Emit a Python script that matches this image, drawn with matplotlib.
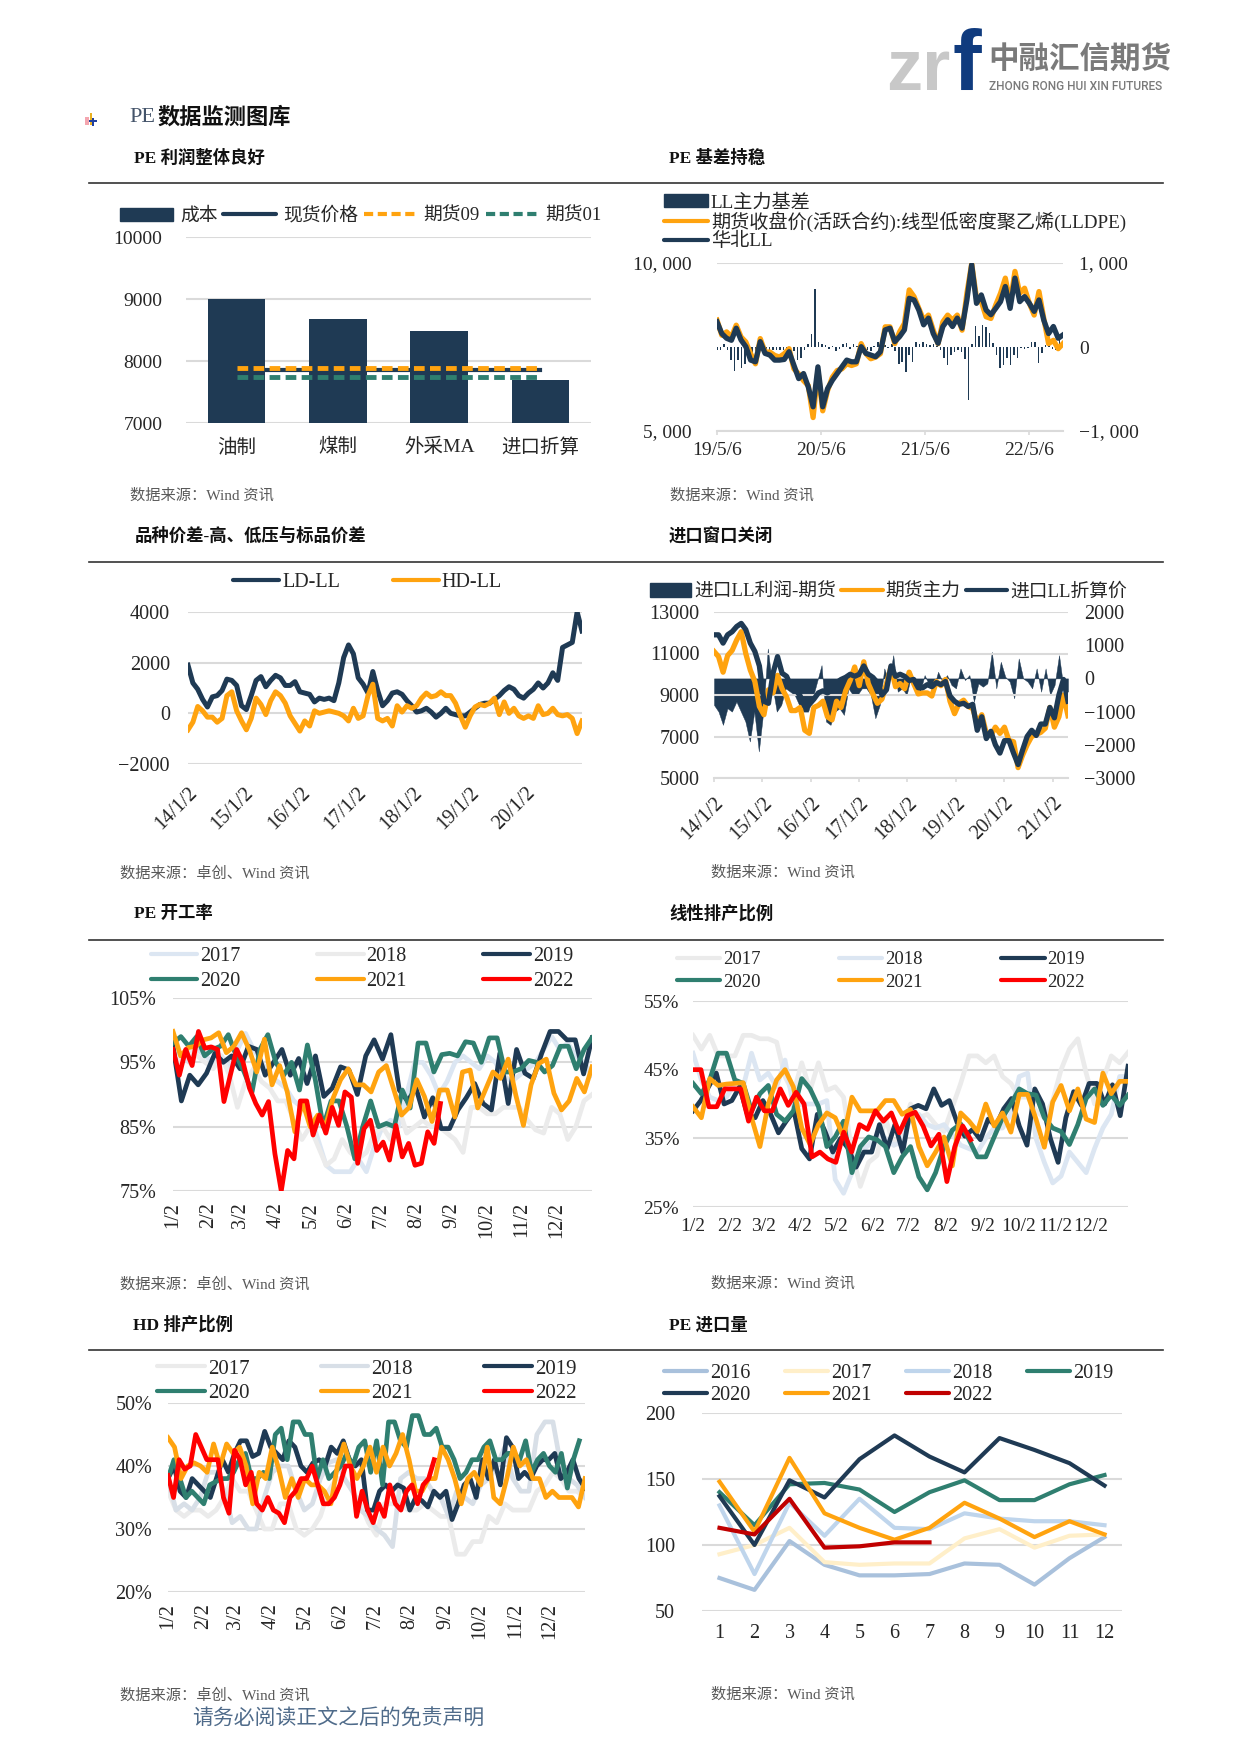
import numpy as np
import matplotlib
matplotlib.use("Agg")
import matplotlib.pyplot as plt
from matplotlib.lines import Line2D
from matplotlib.patches import Patch, Rectangle

plt.rcParams['font.family'] = ['Liberation Serif', 'Noto Sans CJK SC', 'DejaVu Sans']
plt.rcParams['axes.unicode_minus'] = True

W, H = 1241, 1755
NAVY = '#1F3A54'
ORANGE = '#FFA30F'
GREEN = '#2F7F70'
RED = '#FF0000'
GRID = '#DADADA'
LBLUE = '#DCE6F2'
LGRAY = '#EBEBEB'
TEXT = '#262626'

# chart 1
cost_cats = ['油制', '煤制', '外采MA', '进口折算']
cost_vals = [9000, 8680, 8485, 7700]
spot_vals = [7850, 7850, 7850, 7850]
fut09_vals = [7887, 7887, 7887, 7887]
fut01_vals = [7735, 7735, 7735, 7735]

# chart 2
basis_years = ['19/5/6', '20/5/6', '21/5/6', '22/5/6']
north_ll = [8250, 7900, 7760, 7700, 8060, 7710, 7510, 7110, 7060, 7660, 7310, 7260, 7110, 7110, 7130, 7360, 6960,
            6560, 6710, 6310, 5720, 6910, 5720, 6260, 6510, 6710, 6910, 7110, 7060, 7060, 7510, 7310, 7260, 7210,
            7360, 8010, 8060, 7660, 7810, 8010, 8950, 8900, 8600, 8160, 8360, 7900, 7610, 8110, 8310, 8110, 8360,
            8060, 8900, 9950, 8800, 9050, 8600, 8460, 8650, 8850, 9300, 8650, 9550, 8850, 9000, 8800, 8560, 8900,
            8300, 7900, 8110, 7760, 7860]
fut_ll = [8300, 7850, 7950, 7800, 8150, 7800, 7650, 7300, 7000, 7750, 7350, 7350, 7250, 7200, 7300, 7450, 6850,
          6700, 6500, 6350, 5400, 6800, 5600, 6200, 6600, 6800, 6850, 7000, 6950, 7000, 7600, 7300, 7150, 7200,
          7300, 8100, 8100, 7600, 7950, 8200, 9200, 9000, 8650, 8300, 8450, 8000, 7600, 8250, 8450, 8300, 8450,
          8000, 9100, 9980, 8950, 8850, 8400, 8350, 8750, 9100, 9550, 8800, 9750, 9100, 9250, 8800, 8450, 9150,
          8350, 7600, 7700, 7450, 7600]
basis_vals = [-30, -40, 30, -40, -150, -280, -150, -250, -200, -100, -100, -50, -50, -50, -30, -30, -40, -30, -30,
              -30, -50, -20, -50, -150, -130, -30, 40, 150, 690, 60, 30, 20, -20, 10, -50, -20, 30, 50, -20, 40, 10,
              -30, 10, -30, -50, 10, 60, 30, 20, -10, 30, -50, -200, -180, -300, -100, -180, 60, 30, 60, 30, 20, 30,
              10, -40, -130, -220, -100, -60, -40, -60, -140, -630, 40, 250, 130, 260, 240, 170, 50, -100, -250,
              -220, -130, -220, -100, -130, -10, -20, -10, 60, 60, -190, -70, 20, 50, -20, -30, 120, 20]

# chart 3
spread_years = ['14/1/2', '15/1/2', '16/1/2', '17/1/2', '18/1/2', '19/1/2', '20/1/2']
ld_ll = [1900, 1200, 950, 550, 250, 650, 700, 900, 1350, 1300, 1100, 300, 150, 700, 1300, 1450, 1050, 1300, 1500,
         1400, 1100, 1100, 1250, 850, 800, 750, 450, 600, 550, 600, 500, 1200, 2200, 2700, 2350, 1400, 1150, 800,
         1650, 900, 300, 500, 800, 850, 750, 500, 300, 50, 100, 200, 50, -150, 0, 200, 0, -50, -100, -100, 50, 200,
         350, 400, 400, 550, 700, 900, 1050, 950, 700, 600, 800, 950, 1200, 1000, 1200, 1600, 1300, 2600, 2700,
         2800, 4000, 3250]
hd_ll = [-650, -350, 270, 100, -150, -150, -350, -200, 700, 850, 100, -300, -650, -200, 600, 350, -50, 500, 850,
         700, 400, -100, -400, -700, -300, -500, 100, 0, 50, 100, 50, 0, -100, -300, 200, -200, -100, 700, 1150,
         -200, -300, -200, -500, 300, 50, 300, 200, 300, 600, 800, 650, 700, 850, 700, 700, 400, -100, -550, -100,
         250, 350, 300, 400, 600, -50, 450, 0, 200, -100, -200, -100, -200, 300, -50, 0, 200, -50, -100, -50, -200,
         -800, -300]

# chart 4
import_years = ['14/1/2', '15/1/2', '16/1/2', '17/1/2', '18/1/2', '19/1/2', '20/1/2', '21/1/2']
import_price = [11900, 11900, 11500, 11900, 12050, 12300, 12450, 12150, 11500, 11100, 10400, 8700, 8600, 10050,
                10850, 10050, 9900, 9400, 9250, 8950, 8450, 8550, 8800, 9100, 9200, 9100, 9250, 9600, 9750, 9850,
                10000, 9900, 10000, 10400, 10000, 9850, 9600, 9000, 9250, 10400, 9900, 10000, 9900, 9700, 9750,
                9350, 9350, 9500, 9400, 9600, 9500, 9650, 8950, 8700, 8550, 8600, 8450, 8550, 7300, 7950, 6900,
                7250, 6600, 6200, 6800, 6800, 6200, 5650, 6350, 7000, 7300, 7050, 7600, 7600, 8400, 7900, 9000,
                9750, 8700]
import_fut = [11100, 10850, 10100, 10900, 11150, 11650, 12050, 11000, 10200, 9650, 8450, 8050, 9250, 9100, 9950,
              9300, 8900, 8250, 8250, 8400, 7300, 7150, 8400, 8500, 8700, 7950, 7800, 8700, 8400, 9200, 9700, 10350,
              9450, 10600, 9550, 9050, 8600, 8800, 9550, 10350, 9400, 9550, 9300, 10100, 9550, 9050, 9100, 9100,
              8950, 9650, 9450, 9750, 8700, 8100, 8600, 8750, 8450, 8350, 7650, 8050, 7150, 7050, 7450, 7150,
              7450, 6800, 6750, 5500, 6100, 6600, 7000, 7100, 7200, 7400, 8400, 7450, 7950, 9000, 8000]
import_profit = [-800, -1000, -1400, -900, -1000, -700, -1000, -1300, -1900, -1000, -2200, -1000, 900, -200, -1000,
                 -800, -300, -400, -500, -800, -1000, -1000, -600, -100, 400, -1300, -1400, -1000, -900, -1100, -300,
                 -500, -500, -300, -300, -500, -1200, -800, 300, -100, 700, -400, -300, -500, 100, -200, -400, 100,
                 -200, -300, 200, -100, 100, -200, -300, 300, -50, 100, -700, -150, -250, -150, 800, -300, 500, 50,
                 -100, -600, 600, 0, -100, -300, 300, -400, 300, -500, -200, 700, -300, -400]

months = ['1/2', '2/2', '3/2', '4/2', '5/2', '6/2', '7/2', '8/2', '9/2', '10/2', '11/2', '12/2']
month_days = [0, 31, 59, 90, 120, 151, 181, 212, 243, 273, 304, 334]

# chart 5
rate_2017 = [97, 96, 95, 97, 96, 95, 96, 94, 97, 99.5, 97, 95, 93, 92, 91, 89, 88, 87, 83, 79, 78, 78, 78, 80, 78, 82,
             85, 86, 85, 90, 95, 95, 93, 90, 92, 95, 96, 95, 94, 96, 95, 93, 92, 93, 94, 95, 97, 99, 97, 98, 96, 95, 93]
rate_2018 = [96, 95, 97, 96, 95, 94, 96, 93, 88, 92, 94, 92, 91, 89, 89, 86, 83, 85, 82, 79, 80, 83, 81, 80, 81, 84,
             85, 83, 88, 84, 85, 86, 85, 85, 84, 83, 81, 88, 88, 87, 87, 88, 88, 88, 86, 84.5, 84, 88, 87, 83, 85, 89, 90]
rate_2019 = [97.5, 89, 93, 91.5, 93.3, 96.4, 95, 96, 94, 97.5, 97, 93, 95, 97, 93, 95.6, 91.7, 96, 89.7, 91, 94.3,
             93.8, 90, 96, 98.5, 95.5, 99.3, 90.7, 89, 91, 86.5, 89.5, 84.7, 84.7, 87.6, 89.5, 91.7, 88.6, 87.6, 96.4,
             88.6, 97, 93.3, 92.5, 96.4, 99.8, 99.8, 98.5, 98.5, 93.2, 98.8]
rate_2020 = [98, 99, 97.5, 99, 96, 97, 97.5, 99.3, 96, 93.5, 90.4, 97, 99.3, 95, 93, 95, 90.7, 97.7, 92.3, 85, 89,
             89, 85, 80, 85, 89, 85, 85.5, 85, 90.7, 87.9, 98, 98, 93.5, 96.2, 96.4, 96, 98.2, 98, 95, 98.8, 98.8, 93.5,
             93.5, 94, 95.3, 95, 93.5, 94.5, 97.5, 97.5, 94, 97, 98.8]
rate_2021 = [99.8, 96, 97.3, 97.5, 98.5, 98.8, 99.6, 96.5, 97.5, 99.6, 97, 93.5, 98.6, 91.5, 94.5, 90.4, 84.2, 88.8,
             85, 86.8, 85, 89.4, 92.3, 94, 91.5, 91.5, 90.4, 93.5, 94.5, 90.7, 86.8, 88, 92.3, 89.7, 85.8, 90.7, 90.7,
             86.5, 93.5, 93.8, 87.9, 90.7, 93.5, 92.5, 95.5, 89.9, 85.2, 91.5, 94.8, 95.5, 90.2, 87.6, 89, 92.5, 90.4, 94.3]
rate_2022 = [97, 93, 97, 94.5, 99.8, 97.2, 97.4, 97, 88.9, 93, 97, 95, 91, 88.6, 86.8, 88.9, 80.8, 75, 81.3, 80, 89,
             89, 83.7, 86.8, 84, 88, 85.2, 90.4, 89.6, 79.3, 84.7, 86, 81.3, 82.6, 79.8, 85.2, 80.3, 82.4, 79, 79.3,
             84.2, 82.4, 88.6]

# chart 6
linear_2017 = [50, 48, 50, 47, 47, 47, 50, 50, 49.5, 49.5, 49, 44, 41.5, 46, 42, 46, 42, 42.5, 41, 33, 28, 31.5, 32.5,
               38, 34, 36, 40, 38, 38.5, 37, 36, 39.5, 43, 47, 47, 46, 47, 44, 43, 41, 41, 39, 38, 40.5, 45, 48, 49.5,
               44.5, 40, 43.5, 47, 46, 47.5]
linear_2018 = [47.4, 43.5, 41, 40.5, 41, 43, 42.5, 47.4, 43.5, 44.5, 42.5, 46.4, 39.6, 40, 40, 40, 40.5, 29, 27, 30,
               33, 34, 35.5, 35, 34, 34.5, 38, 38.5, 37, 36.5, 37, 35.5, 34, 33.5, 33, 35, 36.5, 36.5, 38.5, 44, 44.5,
               35, 31.5, 28.5, 29.5, 33, 31.5, 30, 33.5, 36.5, 38.5, 44, 44]
linear_2019 = [39, 40.5, 42.5, 44.5, 40, 40.5, 42.5, 38.5, 38, 40.5, 38.5, 35.8, 37.5, 39, 33.5, 32, 38.5, 36, 33,
               35, 33.5, 30.8, 33, 33, 37, 33.5, 37, 33, 39.3, 39.8, 39.3, 42.2, 39.8, 40.5, 37.3, 35.3, 36.3, 34.8, 37.8,
               36.8, 39.3, 40.8, 36.8, 34, 42.2, 40, 35, 31.5, 38, 41.8, 39.8, 43, 43, 40, 42.8, 38.3, 45.5]
linear_2020 = [43, 41.5, 43.5, 47.4, 47.4, 43.5, 43, 39, 41.5, 42.7, 38.5, 37.5, 39, 43.7, 42.2, 39.6, 33.8, 35.2,
               37.5, 30, 33.8, 35.2, 34.8, 33.8, 30, 32.3, 33.8, 29.4, 27.5, 30, 33.8, 36.2, 37.1, 34.8, 32.3, 32.3, 35.2,
               38, 40, 42.2, 41.5, 41.3, 38, 36.5, 36, 34.1, 37, 40.8, 42.2, 39.8, 41.3, 39.8, 41.3]
linear_2021 = [39.6, 38, 43.7, 42.7, 42.9, 43, 43.1, 38, 33.8, 40, 43.5, 45, 42.5, 36.5, 34.1, 37, 38.7, 38, 35.2,
               41, 39, 39, 39, 40.5, 40.5, 38.5, 39.2, 33.8, 31, 33, 35.2, 31, 38.7, 37.5, 36, 40, 36.8, 38.7, 35.9, 41.4,
               41.4, 37.8, 33.7, 40.3, 42.7, 39, 42.2, 37.8, 37.3, 44.5, 41.5, 43.3, 43.3]
linear_2022 = [45, 45, 39.6, 39.6, 42.2, 42.2, 42.2, 37.5, 41, 39, 39, 42.2, 39.8, 41.7, 40, 32.3, 33, 32, 31.5, 35.9,
               33, 37, 36.3, 39, 37.5, 38.7, 35.8, 38.3, 38.8, 36.8, 33.9, 35.6, 28.7, 33.8, 36.8, 34.8]

# chart 7
hd_2017 = [36, 33, 32, 33, 33, 32, 33, 35, 38, 36, 36, 33, 30, 30, 34, 34, 30, 29, 30, 32, 36, 38, 38, 36, 34, 31,
           29, 34, 34, 34, 33, 33, 34, 33, 32, 32, 26, 26, 28, 28, 32, 31, 34, 33, 33, 33, 36, 37, 39, 38, 36, 36, 35]
hd_2018 = [38, 33, 34, 33, 35, 39, 39, 36, 31, 32, 30, 30, 35, 39, 40, 40, 36, 33, 34, 38, 40.5, 41, 38, 36, 33, 32,
           30, 29, 27.2, 38, 39, 38, 38, 36, 35, 32, 36, 35, 34, 37, 38, 40, 43, 38, 36, 36, 45, 47, 47, 40, 38, 37, 35]
hd_2019 = [38, 40, 36, 35, 38, 37, 36, 35, 38, 41, 39, 42, 44, 44, 41.5, 42, 45.5, 43, 42, 41, 44, 43, 40, 39, 40.5,
           41, 40, 43, 42, 44, 41, 40, 41, 33, 33, 36, 37, 36, 37, 36.5, 33, 35, 34.5, 33.5, 36, 35, 36, 31.5, 34, 37,
           38, 35, 41, 38, 41, 37, 44.5, 43, 38, 39, 38, 40, 41, 41, 42, 38, 39, 41, 38, 36.5]
hd_2020 = [38, 41, 38, 35, 36, 35, 34, 37, 37.5, 38, 38, 39, 41, 42, 38, 38, 39, 38, 45, 46, 41, 47, 47, 45, 45, 38,
           41, 38, 39, 40, 42, 40, 43, 44, 39, 44, 37, 47, 47, 44, 43, 48, 48, 45, 45, 46, 43, 43, 41, 38, 39, 41, 41,
           43, 44, 41, 41, 42, 42, 41, 44, 39, 41, 42, 40, 39, 42, 36.5, 41, 44]
hd_2021 = [44.5, 43, 38, 40, 40.5, 40, 39, 43.5, 40, 43.5, 42, 43, 40, 34, 39, 38, 43, 39.5, 35, 38, 35, 38, 37, 37,
           36, 34, 40, 43.5, 40, 38, 40, 43, 39, 43, 40, 42, 45, 41, 36, 36, 38, 38, 43, 41, 38, 34, 38, 39, 37, 43,
           35, 34, 38, 43, 40, 41, 38, 38, 35, 36, 35, 35, 35, 33.5, 38]
hd_2022 = [38.5, 35, 41, 39.5, 40, 45, 43, 41, 41, 41, 35, 32.5, 42.5, 41, 37, 39, 34, 33, 35, 33, 32.5, 31, 35, 36,
           38, 38, 40, 37, 34, 34, 35, 37, 40, 40, 32, 36, 33, 31, 34, 32, 37, 34, 33, 36, 37, 34, 37, 38, 41]

# chart 8
import_months = ['1', '2', '3', '4', '5', '6', '7', '8', '9', '10', '11', '12']
vol_2016 = [75, 66, 103, 85, 77, 77, 78, 86, 85, 70, 90, 106]
vol_2017 = [93, 100, 113, 87, 85, 86, 86, 105, 112, 98, 107, 108]
vol_2018 = [130, 78, 132, 107, 135, 113, 112, 124, 120, 118, 118, 115]
vol_2019 = [140, 115, 146, 147, 142, 125, 140, 149, 134, 134, 146, 153]
vol_2020 = [137, 100, 149, 136, 165, 183, 167, 155, 181, 172, 162, 145]
vol_2021 = [148, 110, 166, 124, 113, 104, 113, 132, 120, 106, 118, 108]
vol_2022 = [113, 108, 135, 98, 99, 102, 102]


fig = plt.figure(figsize=(W / 100, H / 100), dpi=100, facecolor='white')

page = fig.add_axes([0, 0, 1, 1])
page.set_xlim(0, W)
page.set_ylim(H, 0)
page.axis('off')


def make_axes(x0, x1, y_top, y_bot, size=14.5):
    ax = fig.add_axes([x0 / W, 1 - y_bot / H, (x1 - x0) / W, (y_bot - y_top) / H])
    ax.patch.set_visible(False)
    for s in ax.spines.values():
        s.set_visible(False)
    ax.yaxis.grid(True, color=GRID, lw=1.5)
    ax.set_axisbelow(True)
    ax.tick_params(length=0, labelsize=size, labelcolor=TEXT, pad=6)
    return ax


def put_legend(ax, items, ncol, x, y, loc='upper left', **kw):
    handles = [i[0] for i in items]
    labels = [i[1] for i in items]
    opts = dict(frameon=False, fontsize=14.5, handlelength=2.3, handletextpad=0.15, labelspacing=0.05,
                borderpad=0, borderaxespad=0, columnspacing=1.0, labelcolor=TEXT)
    opts.update(kw)
    ax.legend(handles, labels, ncol=ncol, loc=loc, bbox_to_anchor=(x / W, 1 - y / H),
              bbox_transform=fig.transFigure, **opts)


def line_handle(color, ls='-'):
    return Line2D([], [], color=color, lw=3, ls=ls, solid_capstyle='round', dash_capstyle='butt')


def year_lines(ax, series, colors, ends):
    for vals, c, end in zip(series, colors, ends):
        ax.plot(np.linspace(0, end, len(vals)), vals, color=c, lw=3.4)
    ax.set_xlim(0, 365)
    ax.set_xticks(month_days)
    ax.set_xticklabels(months)


def bottom_axis(ax):
    ax.tick_params(axis='x', length=3, color=GRID, width=1.2)
    ax.spines['bottom'].set_visible(True)
    ax.spines['bottom'].set_color(GRID)
    ax.spines['bottom'].set_linewidth(1.5)


# page furniture
page.add_patch(Rectangle((85, 117), 4, 8, color='#F4A6B0', lw=0))
page.add_patch(Rectangle((90, 113), 1.5, 12, color='#E8B020', lw=0))
page.add_patch(Rectangle((89, 120), 8, 2, color='#2040A0', lw=0))
page.add_patch(Rectangle((92, 118), 2, 8, color='#2040A0', lw=0))
page.text(886, 90, 'zr', fontsize=52, family='Liberation Sans', weight='bold', color='#C8C8C8', va='baseline')
page.text(952, 90, 'f', fontsize=62, family='Liberation Sans', weight='bold', color='#103B7E', va='baseline')
page.text(988, 60, '中融汇信期货', fontsize=22, family='Noto Sans CJK SC', weight='bold', color='#7A7A7A', va='center')
page.text(989, 86, 'ZHONG RONG HUI XIN FUTURES', fontsize=8.6, family='Roboto', weight='medium', color='#7A7A7A', va='center')

page.text(129, 117, 'PE', fontsize=16, color='#44546A', va='center')
page.text(157, 117, '数据监测图库', fontsize=16, color='#111111', va='center', family='Noto Sans CJK SC', weight='bold')

titles = [(134, 158, 'PE 利润整体良好'), (669, 158, 'PE 基差持稳'), (135, 536, '品种价差-高、低压与标品价差'),
          (669, 536, '进口窗口关闭'), (134, 914, 'PE 开工率'), (669, 914, '线性排产比例'),
          (133, 1325, 'HD 排产比例'), (669, 1325, 'PE 进口量')]
for tx, ty, t in titles:
    page.text(tx, ty, t, fontsize=12.5, weight='bold', color='#111111', va='center')

for ly in [183, 562, 940, 1350]:
    page.plot([89, 1163], [ly, ly], color='#333333', lw=1.2)

sources = [(130, 496, '数据来源：Wind 资讯'), (670, 496, '数据来源：Wind 资讯'),
           (120, 873, '数据来源：卓创、Wind 资讯'), (711, 873, '数据来源：Wind 资讯'),
           (120, 1284, '数据来源：卓创、Wind 资讯'), (711, 1284, '数据来源：Wind 资讯'),
           (120, 1695, '数据来源：卓创、Wind 资讯'), (711, 1695, '数据来源：Wind 资讯')]
for tx, ty, t in sources:
    page.text(tx, ty, t, fontsize=11, color='#595959', va='center')
page.text(192, 1720, '请务必阅读正文之后的免责声明', fontsize=15, color='#4F6B8A', va='center')

# chart 1: cost bars
ax = make_axes(186, 591, 237, 423, size=14)
cat_x = np.arange(len(cost_cats))
ax.bar(cat_x, cost_vals, width=0.57, color=NAVY, zorder=2)
ax.plot(cat_x, spot_vals, color=NAVY, lw=3, zorder=3)
ax.plot(cat_x, fut09_vals, color=ORANGE, lw=3.5, ls=(0, (2.2, 1.1)), zorder=4)
ax.plot(cat_x, fut01_vals, color=GREEN, lw=3.5, ls=(0, (2.2, 1.1)), zorder=4)
ax.set_xlim(-0.5, 3.5)
ax.set_ylim(7000, 10000)
ax.set_yticks([7000, 8000, 9000, 10000])
ax.set_xticks(cat_x)
ax.set_xticklabels(cost_cats)
ax.tick_params(axis='y', pad=17)
ax.tick_params(axis='x', pad=11)
put_legend(ax, [(Patch(color=NAVY), '成本'), (line_handle(NAVY), '现货价格'),
                (line_handle(ORANGE, (0, (2.2, 1.1))), '期货09'), (line_handle(GREEN, (0, (2.2, 1.1))), '期货01')],
           4, 120, 207, fontsize=13.5, handlelength=2.8, handletextpad=0.4, columnspacing=0.3)

# chart 2: basis
ax = make_axes(717, 1063, 263, 431, size=14)
ax2 = ax.twinx()
for s in ax2.spines.values():
    s.set_visible(False)
ax.set_zorder(3)
ax2.set_zorder(2)
span = 3.327
ax2.bar(np.linspace(0, span, len(basis_vals)), basis_vals, width=0.45 * span / len(basis_vals), color=NAVY, lw=0)
ax.plot(np.linspace(0, span, len(fut_ll)), fut_ll, color=ORANGE, lw=3.8)
ax.plot(np.linspace(0, span, len(north_ll)), north_ll, color=NAVY, lw=3.8)
ax.set_xlim(0, span)
ax.set_ylim(5000, 10000)
ax2.set_ylim(-1000, 1000)
ax.set_yticks([5000, 10000])
ax.set_yticklabels(['5, 000', '10, 000'])
ax2.set_yticks([-1000, 0, 1000])
ax2.set_yticklabels(['−1, 000', '0', '1, 000'])
ax2.tick_params(length=0, labelsize=14, labelcolor=TEXT, pad=11.5)
ax.set_xticks(range(len(basis_years)))
ax.set_xticklabels(basis_years)
ax.tick_params(axis='y', pad=18)
ax.tick_params(axis='x', pad=5)
bottom_axis(ax)
put_legend(ax, [(Patch(color=NAVY), 'LL主力基差'), (line_handle(ORANGE), '期货收盘价(活跃合约):线型低密度聚乙烯(LLDPE)'),
                (line_handle(NAVY), '华北LL')], 1, 664, 194, labelspacing=0, fontsize=13.8)

# chart 3: spreads
ax = make_axes(188, 582, 612, 764)
ax.plot(np.linspace(0, 7, len(ld_ll)), ld_ll, color=NAVY, lw=3.6)
ax.plot(np.linspace(0, 7, len(hd_ll)), hd_ll, color=ORANGE, lw=3.6)
ax.set_xlim(0, 7)
ax.set_ylim(-2000, 4000)
ax.set_yticks([-2000, 0, 2000, 4000])
ax.set_yticklabels(['−2000', '0', '2000', '4000'])
ax.set_xticks(range(len(spread_years)))
ax.set_xticklabels(spread_years, rotation=45, ha='right', rotation_mode='anchor')
ax.tick_params(axis='y', pad=13)
ax.tick_params(axis='x', pad=14)
put_legend(ax, [(line_handle(NAVY), 'LD-LL'), (line_handle(ORANGE), 'HD-LL')], 2, 233, 573, columnspacing=2.6)

# chart 4: import window
ax = make_axes(714, 1068, 612, 778)
ax2 = ax.twinx()
for s in ax2.spines.values():
    s.set_visible(False)
ax.set_zorder(3)
ax2.set_zorder(2)
span = 7.32
ax2.fill_between(np.linspace(0, span, len(import_profit)), import_profit, 0, color=NAVY, lw=0.3)
ax.plot(np.linspace(0, span, len(import_fut)), import_fut, color=ORANGE, lw=3.8)
ax.plot(np.linspace(0, span, len(import_price)), import_price, color=NAVY, lw=3.8)
ax.set_xlim(0, span)
ax.set_ylim(5000, 13000)
ax2.set_ylim(-3000, 2000)
ax.set_yticks([5000, 7000, 9000, 11000, 13000])
ax2.set_yticks([-3000, -2000, -1000, 0, 1000, 2000])
ax2.set_yticklabels(['−3000', '−2000', '−1000', '0', '1000', '2000'])
ax2.tick_params(length=0, labelsize=14.5, labelcolor=TEXT, pad=11.5)
ax.set_xticks(range(len(import_years)))
ax.set_xticklabels(import_years, rotation=45, ha='right', rotation_mode='anchor')
ax.tick_params(axis='y', pad=10.5)
ax.tick_params(axis='x', pad=8)
bottom_axis(ax)
put_legend(ax, [(Patch(color=NAVY), '进口LL利润-期货'), (line_handle(ORANGE), '期货主力'), (line_handle(NAVY), '进口LL折算价')],
           3, 650, 583, fontsize=13.5, handlelength=2.2, columnspacing=0.3)

# chart 5: PE operating rate
ax = make_axes(173, 592, 998, 1191)
year_lines(ax, [rate_2017, rate_2018, rate_2019, rate_2020, rate_2021, rate_2022],
           [LBLUE, LGRAY, NAVY, GREEN, ORANGE, RED], [365, 365, 365, 365, 365, 233])
ax.set_ylim(75, 105)
ax.set_yticks([75, 85, 95, 105])
ax.set_yticklabels(['75%', '85%', '95%', '105%'])
ax.tick_params(axis='y', pad=12)
ax.tick_params(axis='x', labelrotation=90, pad=8)
put_legend(ax, [(line_handle(LBLUE), '2017'), (line_handle(GREEN), '2020'), (line_handle(LGRAY), '2018'),
                (line_handle(ORANGE), '2021'), (line_handle(NAVY), '2019'), (line_handle(RED), '2022')],
           3, 151, 947, columnspacing=3.8, labelspacing=0.28)

# chart 6: linear ratio
ax = make_axes(693, 1128, 1001, 1207, size=14)
year_lines(ax, [linear_2017, linear_2018, linear_2019, linear_2020, linear_2021, linear_2022],
           [LGRAY, LBLUE, NAVY, GREEN, ORANGE, RED], [365, 365, 365, 365, 365, 233])
ax.set_ylim(25, 55)
ax.set_yticks([25, 35, 45, 55])
ax.set_yticklabels(['25%', '35%', '45%', '55%'])
ax.tick_params(axis='y', pad=10)
ax.tick_params(axis='x', pad=8)
put_legend(ax, [(line_handle(LGRAY), '2017'), (line_handle(GREEN), '2020'), (line_handle(LBLUE), '2018'),
                (line_handle(ORANGE), '2021'), (line_handle(NAVY), '2019'), (line_handle(RED), '2022')],
           3, 677, 951, fontsize=13.5, columnspacing=4.2, labelspacing=0.3)

# chart 7: HD ratio
ax = make_axes(168, 585, 1403, 1592)
year_lines(ax, [hd_2017, hd_2018, hd_2019, hd_2020, hd_2021, hd_2022],
           [LGRAY, '#D8DFE7', NAVY, GREEN, ORANGE, RED], [365, 365, 365, 360, 365, 233])
ax.set_ylim(20, 50)
ax.set_yticks([20, 30, 40, 50])
ax.set_yticklabels(['20%', '30%', '40%', '50%'])
ax.tick_params(axis='y', pad=11.5)
ax.tick_params(axis='x', labelrotation=90, pad=8)
put_legend(ax, [(line_handle(LGRAY), '2017'), (line_handle(GREEN), '2020'), (line_handle('#D8DFE7'), '2018'),
                (line_handle(ORANGE), '2021'), (line_handle(NAVY), '2019'), (line_handle(RED), '2022')],
           3, 157, 1359, fontsize=15, columnspacing=3.4, labelspacing=0.24)

# chart 8: import volume
ax = make_axes(702, 1122, 1413, 1611)
vol_series = [vol_2016, vol_2017, vol_2018, vol_2019, vol_2020, vol_2021, vol_2022]
vol_colors = ['#A9C1DC', '#FFEFC9', '#BFD5EC', GREEN, NAVY, ORANGE, '#C00000']
for vals, c in zip(vol_series, vol_colors):
    ax.plot(np.arange(1, len(vals) + 1), vals, color=c, lw=3)
ax.set_xlim(0.5, 12.5)
ax.set_ylim(50, 200)
ax.set_yticks([50, 100, 150, 200])
ax.set_xticks(range(1, 13))
ax.set_xticklabels(import_months)
ax.tick_params(axis='y', pad=19.5)
ax.tick_params(axis='x', pad=9.5)
put_legend(ax, [(line_handle(vol_colors[0]), '2016'), (line_handle(vol_colors[4]), '2020'),
                (line_handle(vol_colors[1]), '2017'), (line_handle(vol_colors[5]), '2021'),
                (line_handle(vol_colors[2]), '2018'), (line_handle(vol_colors[6]), '2022'),
                (line_handle(vol_colors[3]), '2019')],
           4, 664, 1364, handlelength=2.15, columnspacing=1.7, labelspacing=0.16)

fig.savefig('out.png', dpi=100)
